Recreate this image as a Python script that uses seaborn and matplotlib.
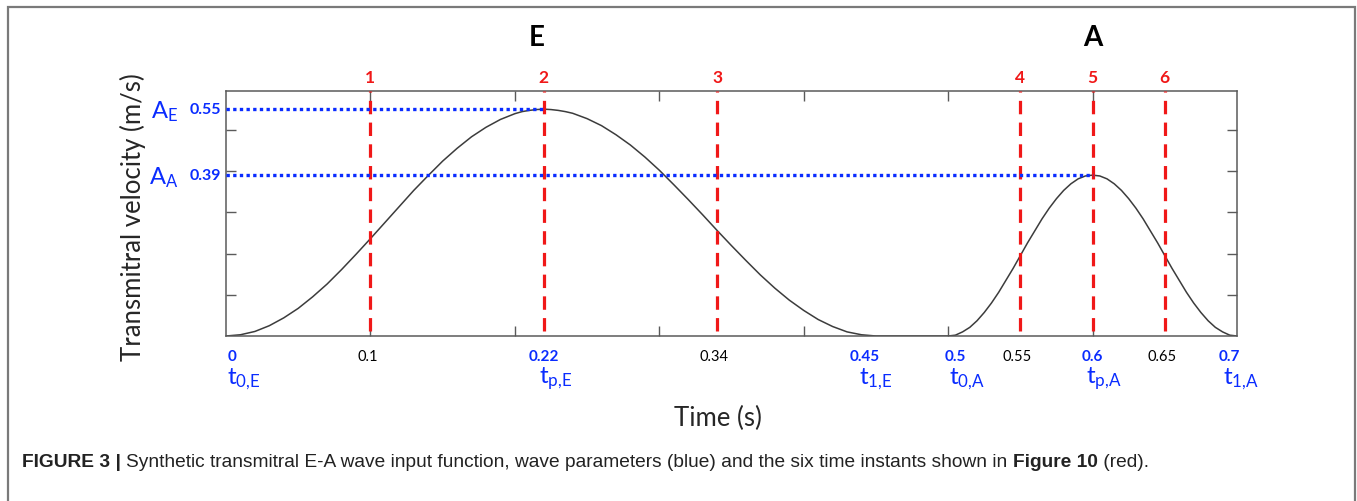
import matplotlib
matplotlib.use("Agg")
import matplotlib.pyplot as plt
import seaborn as sns
import pandas as pd
from matplotlib.patches import Rectangle

# ---- data ----
time_s = [0.00, 0.01, 0.02, 0.03, 0.04, 0.05, 0.06, 0.07, 0.08, 0.09,
          0.10, 0.11, 0.12, 0.13, 0.14, 0.15, 0.16, 0.17, 0.18, 0.19,
          0.20, 0.205, 0.21, 0.215, 0.22, 0.225, 0.23, 0.235, 0.24, 0.25,
          0.26, 0.27, 0.28, 0.29,
          0.30, 0.31, 0.32, 0.33, 0.34, 0.35, 0.36, 0.37, 0.38, 0.39,
          0.40, 0.41, 0.42, 0.43, 0.44, 0.45, 0.46, 0.47, 0.48, 0.49,
          0.50, 0.505, 0.51, 0.515, 0.52, 0.525, 0.53, 0.535, 0.54, 0.545,
          0.55, 0.555, 0.56, 0.565, 0.57, 0.575, 0.58, 0.585, 0.59, 0.595,
          0.60, 0.605, 0.61, 0.615, 0.62, 0.625, 0.63, 0.635, 0.64, 0.645,
          0.65, 0.655, 0.66, 0.665, 0.67, 0.675, 0.68, 0.685, 0.69, 0.695,
          0.70]
velocity = [0.000, 0.003, 0.011, 0.025, 0.044, 0.067, 0.095, 0.126, 0.161, 0.198,
            0.236, 0.275, 0.314, 0.353, 0.389, 0.424, 0.455, 0.483, 0.506, 0.525,
            0.539, 0.544, 0.547, 0.549, 0.550, 0.549, 0.547, 0.544, 0.540, 0.527,
            0.510, 0.488, 0.463, 0.434,
            0.402, 0.367, 0.331, 0.294, 0.256, 0.219, 0.183, 0.148, 0.116, 0.087,
            0.062, 0.040, 0.023, 0.010, 0.003, 0.000, 0.000, 0.000, 0.000, 0.000,
            0.000, 0.002, 0.010, 0.021, 0.037, 0.057, 0.080, 0.106, 0.135, 0.164,
            0.195, 0.226, 0.255, 0.284, 0.310, 0.333, 0.353, 0.369, 0.381, 0.388,
            0.390, 0.388, 0.381, 0.369, 0.353, 0.333, 0.310, 0.284, 0.255, 0.226,
            0.195, 0.164, 0.135, 0.106, 0.080, 0.057, 0.037, 0.021, 0.010, 0.002,
            0.000]

instants = [0.10, 0.22, 0.34, 0.55, 0.60, 0.65]
instant_labels = ["1", "2", "3", "4", "5", "6"]

param_times = [0.0, 0.22, 0.45, 0.5, 0.6, 0.7]
param_time_labels = ["0", "0.22", "0.45", "0.5", "0.6", "0.7"]
param_names = [r"$\mathrm{t_{0{,}E}}$", r"$\mathrm{t_{p{,}E}}$", r"$\mathrm{t_{1{,}E}}$",
               r"$\mathrm{t_{0{,}A}}$", r"$\mathrm{t_{p{,}A}}$", r"$\mathrm{t_{1{,}A}}$"]
other_times = [0.10, 0.34, 0.55, 0.65]
other_time_labels = ["0.1", "0.34", "0.55", "0.65"]

amp_values = [0.55, 0.39]
amp_value_labels = ["0.55", "0.39"]
amp_names = [r"$\mathrm{A_E}$", r"$\mathrm{A_A}$"]
amp_peak_times = [0.22, 0.60]

wave_names = ["E", "A"]
wave_name_times = [0.215, 0.60]

x_ticks = [0.1, 0.2, 0.3, 0.4, 0.5, 0.6]
y_ticks = [0.1, 0.2, 0.3, 0.4, 0.5]

caption_bold1 = "FIGURE 3 | "
caption_text = ("Synthetic transmitral E-A wave input function, wave parameters (blue) "
                "and the six time instants shown in ")
caption_bold2 = "Figure 10"
caption_end = " (red)."

# ---- styling ----
sns.set_theme(style="white")
plt.rcParams["font.family"] = ["Lato", "DejaVu Sans"]
plt.rcParams["mathtext.fontset"] = "custom"
plt.rcParams["mathtext.rm"] = "Lato"
plt.rcParams["mathtext.it"] = "Lato:italic"
plt.rcParams["mathtext.bf"] = "Lato:bold"

BLUE = "#0a2cff"
RED = "#f01818"
GRAY = "#5a5a5a"

fig = plt.figure(figsize=(13.57, 5.02), dpi=100)
ax = fig.add_axes([226 / 1357, 1 - 337 / 502, (1237 - 226) / 1357, (337 - 92) / 502])

df = pd.DataFrame({"time": time_s, "velocity": velocity})
sns.lineplot(data=df, x="time", y="velocity", ax=ax, color="#3c3c3c", lw=1.1)

ax.set_xlim(0, 0.7)
ax.set_ylim(0, 0.594)
ax.set_xticks(x_ticks)
ax.set_yticks(y_ticks)
ax.set_xticklabels([])
ax.set_yticklabels([])
ax.tick_params(direction="in", length=7, width=1, color=GRAY,
               top=True, right=True, bottom=True, left=True)
for s in ax.spines.values():
    s.set_color(GRAY)
    s.set_linewidth(1.1)
ax.set_xlabel("")
ax.set_ylabel("")

# red dashed instants
for t, lab in zip(instants, instant_labels):
    ax.plot([t, t], [0.012, 0.594], color=RED, lw=2.3, dashes=(4.2, 2.6),
            solid_capstyle="butt", dash_capstyle="butt", zorder=3, clip_on=False)
    ax.text(t, 0.615, lab, color=RED, fontsize=12.5, fontweight="bold",
            ha="center", va="baseline", clip_on=False)

# blue dotted amplitudes
for a, tp, lab, nm in zip(amp_values, amp_peak_times, amp_value_labels, amp_names):
    ax.plot([0, tp], [a, a], color=BLUE, lw=2.4, dashes=(1.0, 1.0),
            dash_capstyle="butt", zorder=4)
    ax.text(-0.0035, a, lab, color=BLUE, fontsize=11.5, fontweight="bold",
            ha="right", va="center", clip_on=False)
    ax.text(-0.033, a - 0.004, nm, color=BLUE, fontsize=17,
            ha="right", va="center", clip_on=False)

# wave names
for t, nm in zip(wave_name_times, wave_names):
    ax.text(t, 0.705, nm, color="black", fontsize=20, fontweight="bold",
            ha="center", va="baseline", clip_on=False)

# bottom labels
label_shift = {0.0: 0.004, 0.45: -0.008, 0.5: 0.005, 0.7: -0.005}
for t, lab, nm in zip(param_times, param_time_labels, param_names):
    dx = label_shift.get(t, 0.0)
    ax.text(t + dx, -0.058, lab, color=BLUE, fontsize=11, fontweight="bold",
            ha="center", va="baseline", clip_on=False)
    ax.text(t + dx + 0.008, -0.113, nm, color=BLUE, fontsize=17.5,
            ha="center", va="baseline", clip_on=False)
for t, lab in zip(other_times, other_time_labels):
    ax.text(t - 0.002, -0.058, lab, color="black", fontsize=10.5,
            ha="center", va="baseline", clip_on=False)

fig.text(718 / 1357, 1 - 418 / 502, "Time (s)", fontsize=18.5, ha="center", va="center")
fig.text(133 / 1357, 1 - 217 / 502, "Transmitral velocity (m/s)", fontsize=18.5,
         rotation=90, ha="center", va="center")

# caption
cap_fs = 13.75
cap_fam = ["Liberation Sans", "DejaVu Sans"]
cap_y = 1 - 467 / 502
t1 = fig.text(22 / 1357, cap_y, caption_bold1, fontsize=cap_fs, fontweight="bold",
              family=cap_fam, color="#222222", va="baseline")
fig.canvas.draw()
r = fig.canvas.get_renderer()
x = t1.get_window_extent(r).x1
t2 = fig.text(x / 1357, cap_y, caption_text, fontsize=cap_fs,
              family=cap_fam, color="#222222", va="baseline")
x = t2.get_window_extent(r).x1
t3 = fig.text(x / 1357, cap_y, caption_bold2, fontsize=cap_fs, fontweight="bold",
              family=cap_fam, color="#222222", va="baseline")
x = t3.get_window_extent(r).x1
fig.text(x / 1357, cap_y, caption_end, fontsize=cap_fs,
         family=cap_fam, color="#222222", va="baseline")

# frame around figure (open at the bottom)
fig.add_artist(Rectangle((8 / 1357, -0.2), (1355 - 8) / 1357, 1.2 - 8 / 502,
                         transform=fig.transFigure, fill=False,
                         ec="#7a7a7a", lw=1.6))

fig.savefig("out.png", dpi=100)
